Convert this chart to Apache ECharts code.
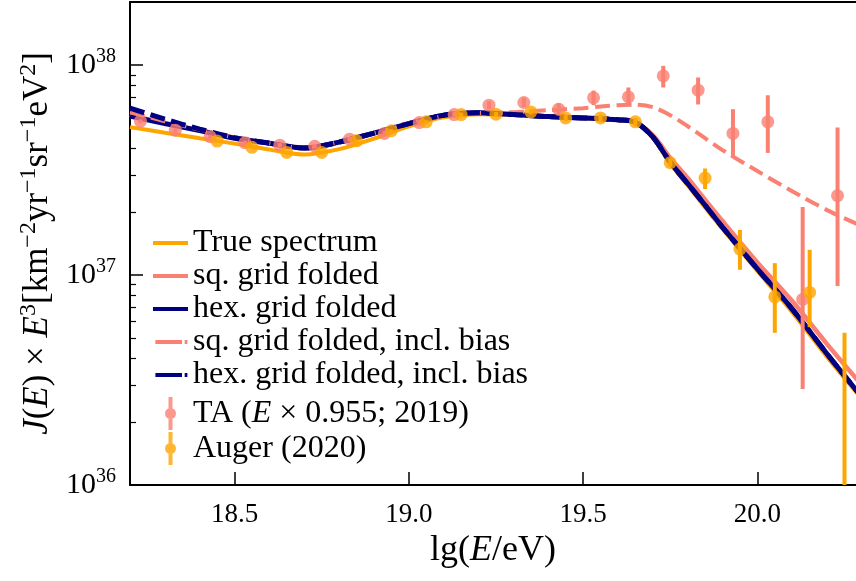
<!DOCTYPE html>
<html>
<head>
<meta charset="utf-8"/>
<title></title>
<script src="https://cdn.jsdelivr.net/npm/echarts@6/dist/echarts.min.js"></script>
<style>
    html, body { margin: 0; padding: 0; background: #fff; }
    #chart { width: 856px; height: 581px; }
</style>
</head>
<body>
<div id="chart"></div>
<script type="text/javascript">
// model curves, sampled in lg(E/eV)
var curveX = [18.2, 18.3, 18.4, 18.5, 18.6, 18.7, 18.8, 18.9, 19.0, 19.1, 19.2, 19.3,
    19.4, 19.5, 19.55, 19.6, 19.65, 19.7, 19.75, 19.8, 19.85, 19.9, 20.0, 20.1, 20.2, 20.3];
var trueSpec = [5.07e37, 4.77e37, 4.49e37, 4.23e37, 3.96e37, 3.75e37, 3.98e37, 4.47e37, 5.12e37, 5.65e37, 5.84e37, 5.81e37,
    5.72e37, 5.62e37, 5.55e37, 5.47e37, 5.35e37, 4.50e37, 3.40e37, 2.68e37, 2.10e37, 1.66e37, 1.045e37, 6.66e36, 4.07e36, 2.57e36];
var sqFolded = [5.78e37, 5.30e37, 4.90e37, 4.52e37, 4.25e37, 4.03e37, 4.30e37, 4.75e37, 5.27e37, 5.78e37, 5.93e37, 5.82e37,
    5.69e37, 5.61e37, 5.56e37, 5.50e37, 5.35e37, 4.64e37, 3.62e37, 2.90e37, 2.29e37, 1.81e37, 1.15e37, 7.52e36, 4.69e36, 2.99e36];
var hexFolded = [5.72e37, 5.27e37, 4.88e37, 4.49e37, 4.25e37, 4.03e37, 4.30e37, 4.75e37, 5.27e37, 5.78e37, 5.93e37, 5.82e37,
    5.69e37, 5.61e37, 5.56e37, 5.50e37, 5.35e37, 4.55e37, 3.45e37, 2.73e37, 2.15e37, 1.69e37, 1.07e37, 6.89e36, 4.21e36, 2.62e36];
var sqBias = [5.97e37, 5.41e37, 4.93e37, 4.52e37, 4.25e37, 4.03e37, 4.30e37, 4.75e37, 5.30e37, 5.72e37, 5.91e37, 5.97e37,
    6.11e37, 6.24e37, 6.35e37, 6.45e37, 6.48e37, 6.31e37, 5.78e37, 5.12e37, 4.49e37, 3.94e37, 3.13e37, 2.51e37, 2.04e37, 1.71e37];
var hexBias = [6.24e37, 5.53e37, 4.96e37, 4.52e37, 4.25e37, 4.03e37, 4.30e37, 4.75e37, 5.27e37, 5.78e37, 5.93e37, 5.82e37,
    5.69e37, 5.61e37, 5.56e37, 5.50e37, 5.35e37, 4.55e37, 3.45e37, 2.73e37, 2.15e37, 1.69e37, 1.07e37, 6.89e36, 4.21e36, 2.62e36];

// TA (E x 0.955; 2019)
var taX = [18.23, 18.33, 18.43, 18.53, 18.63, 18.73, 18.83, 18.93, 19.03, 19.13, 19.23, 19.33,
    19.43, 19.53, 19.63, 19.73, 19.83, 19.93, 20.03, 20.13, 20.23];
var taY = [5.41e37, 4.90e37, 4.56e37, 4.27e37, 4.16e37, 4.11e37, 4.44e37, 4.73e37, 5.33e37, 5.82e37, 6.45e37, 6.64e37,
    6.17e37, 6.99e37, 7.06e37, 8.89e37, 7.60e37, 4.73e37, 5.37e37, 7.66e36, 2.39e37];
var taLo = [5.30e37, 4.80e37, 4.47e37, 4.18e37, 4.07e37, 4.01e37, 4.33e37, 4.60e37, 5.16e37, 5.61e37, 6.17e37, 6.30e37,
    5.77e37, 6.45e37, 6.45e37, 7.83e37, 6.50e37, 3.66e37, 3.82e37, 2.87e36, 8.87e36];
var taHi = [5.52e37, 5.00e37, 4.65e37, 4.36e37, 4.25e37, 4.21e37, 4.55e37, 4.86e37, 5.50e37, 6.03e37, 6.73e37, 7.00e37,
    6.59e37, 7.57e37, 7.83e37, 9.93e37, 8.74e37, 6.17e37, 7.19e37, 2.11e37, 5.05e37];

// Auger (2020)
var augerX = [18.45, 18.55, 18.65, 18.75, 18.85, 18.95, 19.05, 19.15, 19.25, 19.35,
    19.45, 19.55, 19.65, 19.75, 19.85, 19.95, 20.05, 20.15, 20.25];
var augerY = [4.35e37, 4.06e37, 3.84e37, 3.84e37, 4.36e37, 4.87e37, 5.37e37, 5.82e37, 5.84e37, 5.99e37,
    5.61e37, 5.61e37, 5.37e37, 3.43e37, 2.90e37, 1.33e37, 7.88e36, 8.27e36, 8.0e35];
var augerLo = [4.29e37, 4.00e37, 3.78e37, 3.78e37, 4.29e37, 4.79e37, 5.27e37, 5.70e37, 5.70e37, 5.83e37,
    5.43e37, 5.40e37, 5.15e37, 3.28e37, 2.57e37, 1.06e37, 5.31e36, 5.65e36, 1e35];
var augerHi = [4.41e37, 4.12e37, 3.90e37, 3.90e37, 4.43e37, 4.95e37, 5.47e37, 5.94e37, 5.98e37, 6.15e37,
    5.79e37, 5.82e37, 5.60e37, 3.59e37, 3.22e37, 1.64e37, 1.14e37, 1.32e37, 5.31e36];

var xTicks = [18.5, 19.0, 19.5, 20.0];
var yDecades = [36, 37, 38];

var FONT = 'Liberation Serif';
var ORANGE = '#ffa500', SALMON = '#fa8072', NAVY = '#000080';

function pairs(xs, ys) {
    var out = [];
    for (var i = 0; i < xs.length; i++) out.push([xs[i], ys[i]]);
    return out;
}
function bars(xs, lo, hi) {
    var out = [];
    for (var i = 0; i < xs.length; i++) out.push([xs[i], lo[i], hi[i]]);
    return out;
}
function errorBar(color) {
    return function (params, api) {
        var a = api.coord([api.value(0), api.value(1)]);
        var b = api.coord([api.value(0), api.value(2)]);
        return {
            type: 'line',
            shape: {x1: a[0], y1: a[1], x2: b[0], y2: b[1]},
            style: {stroke: color, lineWidth: 4}
        };
    };
}
function curve(name, ys, color, width, dashed) {
    return {
        name: name, type: 'line', data: pairs(curveX, ys), z: 2,
        smooth: 0.3, showSymbol: false, color: color,
        lineStyle: {color: color, width: width, type: dashed ? [15, 6.5] : 'solid'}
    };
}

// minor ticks of the log axis, as exponents
var minorTicks = [];
for (var d = 36; d <= 38; d++) {
    for (var k = 2; k <= 9; k++) {
        var t = d + Math.log10(k);
        if (t < 38.301) minorTicks.push(t);
    }
}

var yMin = 1e36, yMax = 2e38;
var xMin = 18.2, xMax = 20.283;

var dashIcon = 'path://M0,0M2.4,0h26.6v4h-26.6zM31.7,0h2.7v4h-2.7zM35,4';
var barIcon = 'path://M0,0M35,33M15.5,0h4v33h-4zM12,16.5a5.5,5.5 0 1,1 11,0a5.5,5.5 0 1,1 -11,0z';

var myChart = echarts.init(document.getElementById('chart'), null, {renderer: 'canvas'});
var option = {
    animation: false,
    backgroundColor: '#fff',
    grid: {left: 130, right: 0, top: 2, bottom: 96, containLabel: false, outerBoundsMode: 'none'},
    legend: [{
        orient: 'vertical',
        left: 148, top: 222,
        itemWidth: 35, itemHeight: 4, itemGap: 1,
        selectedMode: false,
        itemStyle: {borderWidth: 0},
        textStyle: {fontFamily: FONT, fontSize: 32, lineHeight: 30, color: '#000'},
        data: [
            {name: 'True spectrum', icon: 'rect'},
            {name: 'sq. grid folded', icon: 'rect'},
            {name: 'hex. grid folded', icon: 'rect'},
            {name: 'sq. grid folded, incl. bias', icon: dashIcon},
            {name: 'hex. grid folded, incl. bias', icon: dashIcon}
        ]
    }, {
        orient: 'vertical',
        left: 148, top: 392,
        itemWidth: 35, itemHeight: 33, itemGap: 2,
        selectedMode: false,
        itemStyle: {borderWidth: 0},
        textStyle: {fontFamily: FONT, fontSize: 32, lineHeight: 30, color: '#000',
            rich: {n: {fontFamily: FONT, fontSize: 32}, i: {fontFamily: FONT, fontSize: 32, fontStyle: 'italic'}}},
        formatter: function (name) {
            if (name === 'TA') return '{n|TA (}{i|E}{n| × 0.955; 2019)}';
            return '{n|' + name + '}';
        },
        data: [
            {name: 'TA', icon: barIcon},
            {name: 'Auger (2020)', icon: barIcon}
        ]
    }],
    xAxis: [{
        type: 'value', min: xMin, max: xMax,
        name: '{n|lg(}{i|E}{n|/eV)}',
        nameLocation: 'middle', nameGap: 42,
        nameTextStyle: {
            color: '#000',
            rich: {
                n: {fontFamily: FONT, fontSize: 36, color: '#000'},
                i: {fontFamily: FONT, fontSize: 36, fontStyle: 'italic', color: '#000'}
            }
        },
        axisLine: {onZero: false, lineStyle: {color: '#000', width: 2}},
        axisTick: {inside: true, length: 13, customValues: xTicks, lineStyle: {color: '#000', width: 1.5}},
        axisLabel: {customValues: xTicks, margin: 16, fontFamily: FONT, fontSize: 27, color: '#000',
            formatter: function (v) { return v.toFixed(1); }},
        splitLine: {show: false}
    }, {
        type: 'value', min: xMin, max: xMax, position: 'top',
        axisLine: {onZero: false, lineStyle: {color: '#000', width: 2}},
        axisTick: {show: false}, axisLabel: {show: false}, splitLine: {show: false}
    }],
    yAxis: [{
        // data axis, log scale
        type: 'log', logBase: 10, min: yMin, max: yMax,
        axisLine: {show: false}, axisTick: {show: false}, axisLabel: {show: false}, splitLine: {show: false}
    }, {
        // decade ticks and labels
        type: 'value', min: 36, max: Math.log10(yMax), position: 'left',
        name: '{i|J}{n|(}{i|E}{n|) × }{i|E}{s|3}{n|[km}{s|−2}{n|yr}{s|−1}{n|sr}{s|−1}{n|eV}{s|2}{n|]}',
        nameLocation: 'middle', nameGap: 70,
        nameTextStyle: {
            color: '#000',
            rich: {
                n: {fontFamily: FONT, fontSize: 35, color: '#000'},
                i: {fontFamily: FONT, fontSize: 35, fontStyle: 'italic', color: '#000'},
                s: {fontFamily: FONT, fontSize: 24, color: '#000', padding: [0, 0, 18, 0]}
            }
        },
        axisLine: {onZero: false, lineStyle: {color: '#000', width: 2}},
        axisTick: {inside: true, length: 13, customValues: yDecades, lineStyle: {color: '#000', width: 1.5}},
        axisLabel: {
            customValues: yDecades, margin: 14,
            formatter: function (v) { return '{b|10}{s|' + v + '}'; },
            rich: {
                b: {fontFamily: FONT, fontSize: 30, color: '#000'},
                s: {fontFamily: FONT, fontSize: 20, color: '#000', padding: [0, 0, 16, 0]}
            }
        },
        splitLine: {show: false}
    }, {
        // minor ticks
        type: 'value', min: 36, max: Math.log10(yMax), position: 'left',
        axisLine: {show: false},
        axisTick: {inside: true, length: 6, customValues: minorTicks, lineStyle: {color: '#000', width: 1.2}},
        axisLabel: {show: false}, splitLine: {show: false}
    }],
    series: [
        curve('True spectrum', trueSpec, ORANGE, 4, false),
        curve('sq. grid folded', sqFolded, SALMON, 4.5, false),
        curve('hex. grid folded', hexFolded, NAVY, 5, false),
        curve('sq. grid folded, incl. bias', sqBias, SALMON, 4, true),
        curve('hex. grid folded, incl. bias', hexBias, NAVY, 5, true),
        {name: 'TA err', type: 'custom', data: bars(taX, taLo, taHi), clip: true, z: 4,
            encode: {x: 0, y: [1, 2]}, renderItem: errorBar(SALMON)},
        {name: 'TA', type: 'scatter', data: pairs(taX, taY), symbolSize: 13, color: SALMON, z: 5,
            itemStyle: {color: SALMON}},
        {name: 'Auger err', type: 'custom', data: bars(augerX, augerLo, augerHi), clip: true, z: 6,
            encode: {x: 0, y: [1, 2]}, renderItem: errorBar(ORANGE)},
        {name: 'Auger (2020)', type: 'scatter', data: pairs(augerX, augerY), symbolSize: 13, color: ORANGE, z: 7,
            itemStyle: {color: ORANGE}}
    ]
};
myChart.setOption(option);
</script>
</body>
</html>
